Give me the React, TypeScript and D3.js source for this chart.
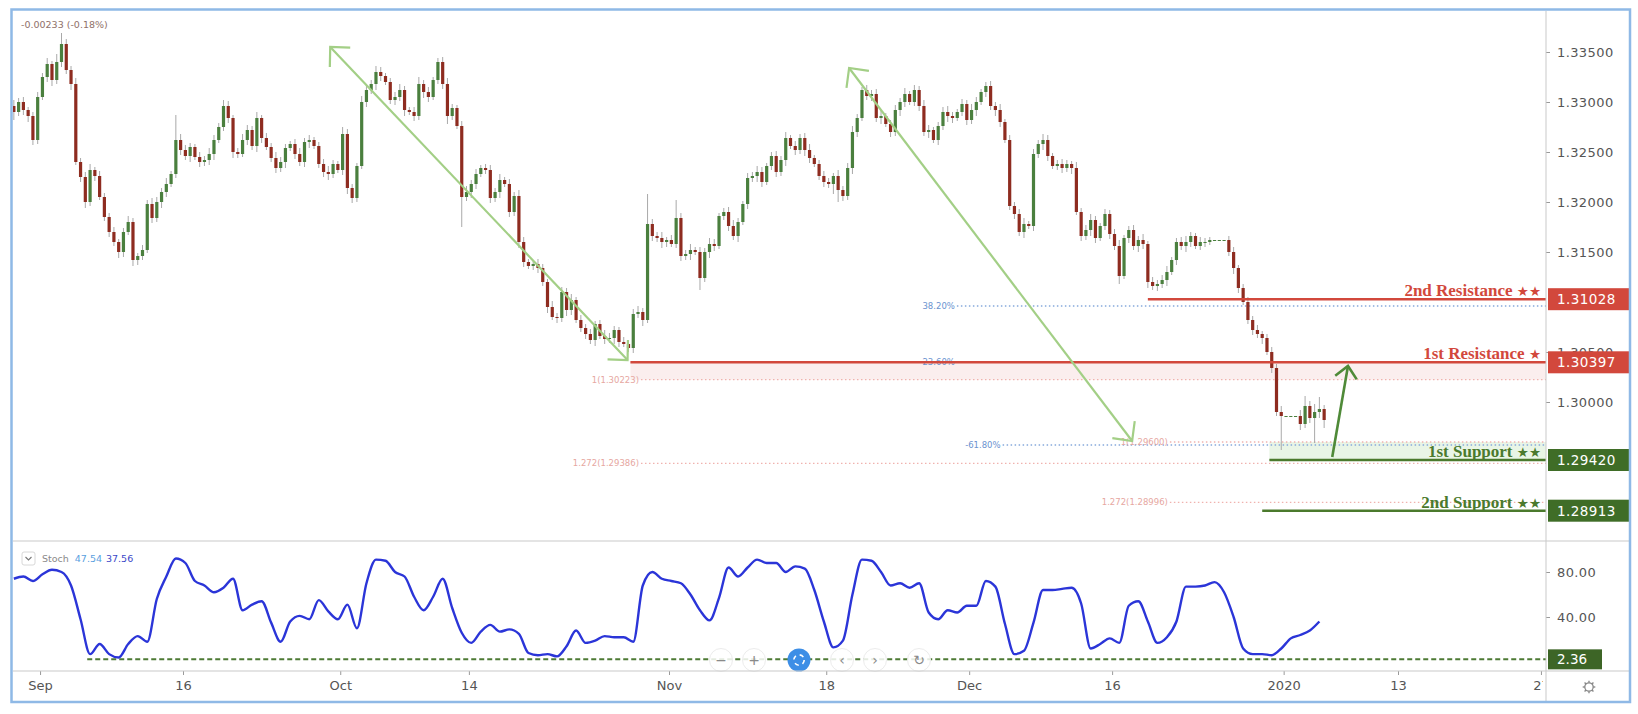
import React, { useEffect, useRef } from 'react';
import * as d3 from 'd3';

const W = 1638;
const H = 714;

// USD/CAD, 3 candles per trading day, day 0 = Thu 29 Aug 2019
const barsPerDay = 3;
const firstOpen = 1.3296;

const closes = [
  1.3290, 1.3300, 1.3292, 1.3286, 1.3262, 1.3305, 1.3325, 1.3338, 1.3322, 1.3340,
  1.3358, 1.3332, 1.3318, 1.3240, 1.3225, 1.3200, 1.3232, 1.3226, 1.3205, 1.3185,
  1.3170, 1.3160, 1.3150, 1.3170, 1.3180, 1.3142, 1.3146, 1.3152, 1.3198, 1.3184,
  1.3200, 1.3210, 1.3218, 1.3228, 1.3262, 1.3252, 1.3246, 1.3255, 1.3245, 1.3240,
  1.3242, 1.3248, 1.3262, 1.3275, 1.3296, 1.3284, 1.3250, 1.3248, 1.3262, 1.3272,
  1.3256, 1.3284, 1.3264, 1.3255, 1.3244, 1.3234, 1.3240, 1.3254, 1.3258, 1.3248,
  1.3240, 1.3260, 1.3262, 1.3256, 1.3238, 1.3230, 1.3228, 1.3238, 1.3232, 1.3268,
  1.3214, 1.3204, 1.3236, 1.3300, 1.3312, 1.3318, 1.3330, 1.3326, 1.3320, 1.3302,
  1.3305, 1.3312, 1.3292, 1.3290, 1.3286, 1.3318, 1.3310, 1.3305, 1.3322, 1.3340,
  1.3318, 1.3286, 1.3294, 1.3276, 1.3205, 1.3210, 1.3218, 1.3228, 1.3234, 1.3232,
  1.3204, 1.3210, 1.3222, 1.3218, 1.3190, 1.3206, 1.3160, 1.3140, 1.3136, 1.3138,
  1.3134, 1.3120, 1.3095, 1.3085, 1.3084, 1.3110, 1.3092, 1.3102, 1.3082, 1.3074,
  1.3068, 1.3062, 1.3078, 1.3066, 1.3063, 1.3064, 1.3072, 1.3060, 1.3058, 1.3054,
  1.3088, 1.3090, 1.3082, 1.3178, 1.3166, 1.3164, 1.3160, 1.3162, 1.3158, 1.3184,
  1.3146, 1.3148, 1.3152, 1.3150, 1.3124, 1.3150, 1.3158, 1.3156, 1.3186, 1.3190,
  1.3176, 1.3166, 1.3180, 1.3198, 1.3224, 1.3226, 1.3230, 1.3220, 1.3236, 1.3246,
  1.3230, 1.3242, 1.3264, 1.3256, 1.3252, 1.3264, 1.3252, 1.3244, 1.3238, 1.3226,
  1.3220, 1.3218, 1.3226, 1.3212, 1.3206, 1.3234, 1.3270, 1.3284, 1.3312, 1.3306,
  1.3308, 1.3284, 1.3286, 1.3278, 1.3270, 1.3292, 1.3300, 1.3308, 1.3300, 1.3312,
  1.3296, 1.3270, 1.3272, 1.3262, 1.3276, 1.3290, 1.3286, 1.3284, 1.3290, 1.3298,
  1.3282, 1.3292, 1.3300, 1.3310, 1.3316, 1.3296, 1.3292, 1.3280, 1.3262, 1.3196,
  1.3188, 1.3170, 1.3178, 1.3176, 1.3248, 1.3258, 1.3262, 1.3246, 1.3236, 1.3238,
  1.3234, 1.3238, 1.3234, 1.3190, 1.3166, 1.3172, 1.3182, 1.3164, 1.3176, 1.3188,
  1.3168, 1.3156, 1.3126, 1.3164, 1.3172, 1.3156, 1.3162, 1.3158, 1.3120, 1.3116,
  1.3118, 1.3122, 1.3130, 1.3142, 1.3160, 1.3156, 1.3160, 1.3166, 1.3156, 1.3160,
  1.3160, 1.3162, 1.3162, 1.3162, 1.3162, 1.3150, 1.3134, 1.3114, 1.3100, 1.3082,
  1.3072, 1.3068, 1.3064, 1.3050, 1.3034, 1.2990, 1.2986, 1.2986, 1.2986, 1.2986,
  1.2978, 1.2996, 1.2984, 1.2990, 1.2993, 1.2982,
];

// wick lengths in pips above / below the body
const wickUp = [
  6, 4, 5, 3, 4, 5, 4, 6, 3, 8, 11, 5, 4, 6, 4, 5, 6, 3, 5, 4,
  4, 5, 3, 4, 6, 4, 3, 5, 4, 6, 5, 4, 6, 3, 25, 6, 5, 4, 3, 5,
  4, 6, 5, 4, 6, 5, 3, 4, 6, 5, 4, 6, 3, 5, 4, 6, 5, 4, 3, 5,
  6, 4, 5, 3, 4, 5, 6, 4, 3, 7, 5, 4, 3, 6, 5, 4, 6, 5, 3, 4,
  5, 6, 4, 3, 5, 7, 4, 5, 3, 4, 5, 6, 4, 3, 5, 6, 4, 5, 3, 4,
  5, 4, 6, 3, 5, 4, 6, 5, 3, 4, 5, 4, 3, 6, 4, 5, 4, 6, 3, 5,
  4, 5, 3, 4, 6, 5, 4, 3, 5, 4, 5, 6, 4, 30, 5, 4, 6, 3, 5, 18,
  5, 4, 6, 3, 5, 4, 6, 5, 3, 4, 5, 6, 4, 3, 5, 4, 6, 5, 3, 4,
  5, 4, 6, 3, 5, 4, 5, 6, 3, 4, 5, 4, 3, 6, 4, 5, 6, 4, 3, 5,
  4, 5, 6, 3, 4, 5, 4, 6, 3, 5, 4, 6, 5, 3, 4, 5, 6, 4, 3, 5,
  4, 6, 5, 3, 4, 5, 4, 6, 3, 5, 4, 5, 6, 3, 5, 4, 6, 5, 3, 4,
  5, 4, 3, 6, 4, 5, 6, 4, 3, 5, 4, 5, 6, 3, 4, 5, 4, 6, 3, 5,
  4, 5, 6, 3, 4, 5, 6, 4, 3, 5, 4, 3, 0, 0, 0, 4, 5, 3, 4, 5,
  4, 5, 3, 4, 5, 4, 6, 0, 0, 0, 6, 10, 5, 8, 12, 4,
];

const wickDown = [
  8, 4, 5, 6, 5, 4, 3, 5, 6, 4, 5, 4, 6, 3, 5, 6, 4, 5, 3, 4,
  5, 4, 6, 5, 3, 6, 5, 4, 3, 5, 4, 6, 5, 3, 4, 5, 4, 6, 3, 5,
  4, 5, 6, 3, 4, 5, 6, 4, 3, 5, 4, 6, 5, 3, 4, 5, 4, 6, 3, 5,
  4, 5, 6, 3, 4, 5, 6, 4, 3, 5, 6, 5, 4, 3, 5, 4, 6, 5, 3, 4,
  5, 4, 6, 3, 5, 4, 6, 5, 3, 4, 5, 8, 4, 3, 30, 4, 6, 5, 3, 4,
  5, 4, 6, 3, 5, 4, 6, 5, 3, 4, 5, 4, 6, 3, 5, 4, 6, 5, 3, 4,
  5, 4, 6, 3, 5, 4, 6, 5, 3, 4, 5, 4, 6, 3, 5, 4, 6, 5, 3, 4,
  5, 4, 6, 3, 12, 4, 6, 5, 3, 4, 5, 4, 6, 3, 5, 4, 6, 5, 3, 4,
  5, 4, 6, 3, 5, 4, 6, 5, 3, 4, 5, 4, 10, 12, 5, 4, 6, 5, 3, 4,
  5, 4, 6, 3, 5, 4, 6, 5, 3, 4, 5, 4, 6, 3, 5, 4, 6, 5, 3, 4,
  5, 4, 6, 3, 5, 4, 6, 5, 3, 4, 5, 4, 6, 3, 5, 4, 6, 5, 3, 4,
  5, 4, 6, 3, 5, 4, 6, 5, 3, 4, 5, 4, 8, 3, 5, 4, 6, 5, 6, 4,
  5, 4, 6, 3, 5, 4, 6, 5, 3, 4, 5, 3, 0, 0, 0, 4, 6, 5, 3, 4,
  5, 4, 6, 3, 5, 4, 34, 0, 0, 0, 6, 4, 5, 25, 6, 8,
];

// Stochastic %K, one value every 2nd candle
const stochStep = 2;
const stochK = [
  74, 76, 72, 78, 82, 80, 68, 38, 7, 16,
  7, 4, 16, 23, 18, 56, 76, 92, 88, 72,
  68, 62, 66, 74, 46, 51, 54, 35, 18, 36,
  41, 38, 55, 45, 38, 51, 30, 70, 91, 90,
  80, 76, 58, 46, 58, 74, 48, 26, 17, 27,
  33, 27, 29, 25, 8, 6, 7, 5, 14, 28,
  17, 19, 23, 22, 22, 18, 68, 80, 74, 72,
  70, 60, 46, 37, 57, 84, 76, 84, 91, 88,
  88, 80, 85, 83, 64, 36, 13, 19, 60, 91,
  90, 80, 68, 70, 66, 70, 44, 38, 46, 44,
  50, 50, 72, 67, 34, 7, 10, 35, 64, 64,
  65, 66, 52, 12, 16, 21, 17, 50, 54, 36,
  17, 22, 36, 67, 67, 68, 71, 62, 40, 12,
  7, 7, 6, 12, 21, 24, 28, 36,
];
const stochLegend = ['47.54', '37.56'];
const stochMinLevel = 2.36;
const stochLevelFromDay = 5.3;

const timeTickLabels = ['Sep', '16', 'Oct', '14', 'Nov', '18', 'Dec', '16', '2020', '13', '27'];
const timeTickDays = [2, 12, 23, 32, 46, 57, 67, 77, 89, 97, 107];

const priceTicks = [1.335, 1.33, 1.325, 1.32, 1.315, 1.305, 1.3];
const stochTicks = [80, 40];

const levelNames = ['2nd Resistance', '1st Resistance', '1st Support', '2nd Support'];
const levelStars = ['★★', '★', '★★', '★★'];
const levelPrices = [1.31028, 1.30397, 1.2942, 1.28913];
const levelFromDays = [79.5, 43.3, 88.0, 87.5];
const levelKinds = ['res', 'res', 'sup', 'sup'];

const zoneTops = [1.30397, 1.296];
const zoneBottoms = [1.30223, 1.2942];
const zoneFromDays = [43.3, 88.0];
const zoneKinds = ['res', 'sup'];

const fibLabels = ['38.20%', '23.60%', '-61.80%', '1(1.30223)', '1.272(1.29386)', '1(1.29600)', '1.272(1.28996)'];
const fibPrices = [1.3096, 1.304, 1.2957, 1.30223, 1.29386, 1.296, 1.28996];
const fibFromDays = [66.0, 66.0, 69.2, 43.9, 43.9, 80.9, 80.9];
const fibKinds = ['retr', 'retr', 'retr', 'ext', 'ext', 'ext', 'ext'];

// [day, price]
const arrowStarts = [[43.1, 1.3042], [78.4, 1.2961], [92.4, 1.2945]];
const arrowEnds = [[22.3, 1.3355], [58.6, 1.3334], [93.5, 1.3036]];
const arrowDouble = [true, true, false];

const changeText = '-0.00233 (-0.18%)';

const Chart: React.FC = () => {
  const ref = useRef<SVGSVGElement>(null);

  useEffect(() => {
    const svg = d3.select(ref.current);
    svg.selectAll('*').remove();

    const plotLeft = 13;
    const plotRight = 1546;
    const mainTop = 11;
    const mainBottom = 541;
    const stochBottom = 671;
    const frameBottom = 702;
    const frameRight = 1630;

    const xDay = d3.scaleLinear().domain([12, 97]).range([183, 1398]);
    const yPrice = d3.scaleLinear().domain([1.3, 1.335]).range([402, 52]);
    const yStoch = d3.scaleLinear().domain([0, 80]).range([662, 572]);
    const barX = (i: number) => xDay(i / barsPerDay + 0.5 / barsPerDay);

    const candles = closes.map((c, i) => {
      const o = i === 0 ? firstOpen : closes[i - 1];
      return {
        i,
        o,
        c,
        h: Math.max(o, c) + wickUp[i] / 10000,
        l: Math.min(o, c) - wickDown[i] / 10000,
      };
    });

    const sans = 'DejaVu Sans, Verdana, sans-serif';
    const red = '#d2483c';
    const green = '#4b7a2d';

    svg.append('rect').attr('width', W).attr('height', H).attr('fill', '#fff');

    const defs = svg.append('defs');
    defs.append('clipPath').attr('id', 'clip-main').append('rect')
      .attr('x', plotLeft).attr('y', mainTop).attr('width', plotRight - plotLeft).attr('height', mainBottom - mainTop);
    defs.append('clipPath').attr('id', 'clip-stoch').append('rect')
      .attr('x', plotLeft).attr('y', mainBottom).attr('width', plotRight - plotLeft).attr('height', stochBottom - mainBottom);
    defs.append('clipPath').attr('id', 'clip-time').append('rect')
      .attr('x', plotLeft).attr('y', stochBottom).attr('width', plotRight - plotLeft - 3).attr('height', frameBottom - stochBottom);

    const main = svg.append('g').attr('clip-path', 'url(#clip-main)');

    // shaded zones
    zoneTops.forEach((top, k) => {
      main.append('rect')
        .attr('x', xDay(zoneFromDays[k]))
        .attr('y', yPrice(top))
        .attr('width', plotRight - xDay(zoneFromDays[k]))
        .attr('height', yPrice(zoneBottoms[k]) - yPrice(top))
        .attr('fill', zoneKinds[k] === 'res' ? 'rgba(226,120,120,0.13)' : 'rgba(120,190,100,0.16)');
    });

    // fib dotted levels
    fibPrices.forEach((p, k) => {
      const isRetr = fibKinds[k] === 'retr';
      const x0 = xDay(fibFromDays[k]);
      main.append('line')
        .attr('x1', x0 + 2).attr('x2', plotRight)
        .attr('y1', yPrice(p)).attr('y2', yPrice(p))
        .attr('stroke', isRetr ? '#86a9dc' : '#f0b2ae')
        .attr('stroke-width', 1.3)
        .attr('stroke-dasharray', '1.5,2.5');
      main.append('text')
        .attr('x', x0).attr('y', yPrice(p) + 3)
        .attr('text-anchor', 'end')
        .attr('font-family', sans).attr('font-size', 8.5)
        .attr('fill', isRetr ? '#6b93cf' : '#e6a7a1')
        .text(fibLabels[k]);
    });

    // candles
    const cg = main.append('g');
    cg.selectAll('line.wick').data(candles).enter().append('line')
      .attr('class', 'wick')
      .attr('x1', d => barX(d.i)).attr('x2', d => barX(d.i))
      .attr('y1', d => yPrice(d.h)).attr('y2', d => yPrice(d.l))
      .attr('stroke', '#a9a9a9').attr('stroke-width', 1);
    cg.selectAll('rect.body').data(candles).enter().append('rect')
      .attr('class', 'body')
      .attr('x', d => barX(d.i) - 1.6)
      .attr('width', 3.2)
      .attr('y', d => yPrice(Math.max(d.o, d.c)))
      .attr('height', d => Math.max(1, Math.abs(yPrice(d.o) - yPrice(d.c))))
      .attr('fill', d => (d.c >= d.o ? '#4a7f3e' : '#8e2c20'));

    // support / resistance lines
    levelPrices.forEach((p, k) => {
      const col = levelKinds[k] === 'res' ? red : green;
      main.append('line')
        .attr('x1', xDay(levelFromDays[k])).attr('x2', plotRight)
        .attr('y1', yPrice(p)).attr('y2', yPrice(p))
        .attr('stroke', col).attr('stroke-width', 2.6);
      const t = main.append('text')
        .attr('x', plotRight - 5).attr('y', yPrice(p) - 3)
        .attr('text-anchor', 'end')
        .attr('font-family', 'Liberation Serif, Times New Roman, serif')
        .attr('font-weight', 'bold').attr('font-size', 17)
        .attr('fill', col);
      t.append('tspan').text(levelNames[k] + ' ');
      t.append('tspan').attr('font-size', 13.5).attr('font-family', sans).text(levelStars[k]);
    });

    // arrows
    const head = (g: any, tx: number, ty: number, ox: number, oy: number, col: string, sw: number, len: number, spread: number) => {
      const a = Math.atan2(ty - oy, tx - ox);
      const pts = [
        [tx - len * Math.cos(a - spread), ty - len * Math.sin(a - spread)],
        [tx, ty],
        [tx - len * Math.cos(a + spread), ty - len * Math.sin(a + spread)],
      ];
      g.append('path').attr('d', d3.line()(pts as [number, number][]))
        .attr('fill', 'none').attr('stroke', col).attr('stroke-width', sw)
        .attr('stroke-linejoin', 'miter');
    };
    arrowStarts.forEach((s, k) => {
      const x1 = xDay(s[0]);
      const y1 = yPrice(s[1]);
      const x2 = xDay(arrowEnds[k][0]);
      const y2 = yPrice(arrowEnds[k][1]);
      const col = arrowDouble[k] ? '#a3cf86' : '#4f8a38';
      const sw = arrowDouble[k] ? 2.2 : 2.6;
      main.append('line').attr('x1', x1).attr('y1', y1).attr('x2', x2).attr('y2', y2)
        .attr('stroke', col).attr('stroke-width', sw);
      if (arrowDouble[k]) {
        head(main, x2, y2, x1, y1, col, sw, 20, 0.78);
        head(main, x1, y1, x2, y2, col, sw, 20, 0.78);
      } else {
        head(main, x2, y2, x1, y1, col, sw, 16, 0.75);
      }
    });

    main.append('text')
      .attr('x', 21).attr('y', 28)
      .attr('font-family', sans).attr('font-size', 9.5)
      .attr('fill', '#8f7169')
      .text(changeText);

    // stochastic pane
    const stoch = svg.append('g').attr('clip-path', 'url(#clip-stoch)');
    stoch.append('line')
      .attr('x1', xDay(stochLevelFromDay)).attr('x2', plotRight)
      .attr('y1', yStoch(stochMinLevel)).attr('y2', yStoch(stochMinLevel))
      .attr('stroke', '#4d7a34').attr('stroke-width', 2)
      .attr('stroke-dasharray', '5,3');
    const stochLine = d3.line<number>()
      .x((_, i) => barX(i * stochStep))
      .y(v => yStoch(v))
      .curve(d3.curveMonotoneX);
    stoch.append('path').datum(stochK)
      .attr('d', stochLine)
      .attr('fill', 'none').attr('stroke', '#2b35d8').attr('stroke-width', 2.4);

    // legend
    svg.append('rect').attr('x', 22).attr('y', 552).attr('width', 13).attr('height', 13)
      .attr('fill', '#fff').attr('stroke', '#d8d8d8').attr('rx', 2);
    svg.append('path').attr('d', 'M25.5,557 L28.5,560 L31.5,557')
      .attr('fill', 'none').attr('stroke', '#777').attr('stroke-width', 1.1);
    const leg = svg.append('text').attr('x', 42).attr('y', 562)
      .attr('font-family', sans).attr('font-size', 9.5);
    leg.append('tspan').attr('fill', '#8a8a8a').text('Stoch');
    leg.append('tspan').attr('dx', 6).attr('fill', '#5aa0e0').text(stochLegend[0]);
    leg.append('tspan').attr('dx', 4).attr('fill', '#3b48c8').text(stochLegend[1]);

    // navigation buttons
    const navX = [721, 754, 799, 842, 875, 919];
    const navIcons = ['−', '+', '', '‹', '›', '↻'];
    navX.forEach((x, k) => {
      const blue = k === 2;
      svg.append('circle').attr('cx', x).attr('cy', 660).attr('r', 11.5)
        .attr('fill', blue ? '#3d8ee6' : 'rgba(255,255,255,0.85)')
        .attr('stroke', blue ? 'none' : '#ececec');
      if (blue) {
        svg.append('circle').attr('cx', x).attr('cy', 660).attr('r', 5.2)
          .attr('fill', 'none').attr('stroke', '#fff').attr('stroke-width', 1.6)
          .attr('stroke-dasharray', '4.2,4');
      } else {
        svg.append('text').attr('x', x).attr('y', 665).attr('text-anchor', 'middle')
          .attr('font-family', sans).attr('font-size', 14).attr('fill', '#8a8a8a')
          .text(navIcons[k]);
      }
    });

    // price axis
    const pa = svg.append('g').attr('transform', `translate(${plotRight},0)`)
      .call(d3.axisRight(yPrice).tickValues(priceTicks).tickFormat(d3.format('.5f')).tickSize(4).tickPadding(7));
    pa.select('.domain').remove();
    pa.selectAll('line').attr('stroke', '#9a9a9a');
    pa.selectAll('text').attr('font-family', sans).attr('font-size', 13).attr('fill', '#555')
      .attr('letter-spacing', 0.4);

    levelPrices.forEach((p, k) => {
      const col = levelKinds[k] === 'res' ? red : '#3f6d27';
      const y = yPrice(p);
      svg.append('rect').attr('x', plotRight + 2).attr('y', y - 11).attr('width', frameRight - plotRight - 2).attr('height', 22)
        .attr('fill', col);
      svg.append('text').attr('x', plotRight + 11).attr('y', y + 5)
        .attr('font-family', sans).attr('font-size', 13.5).attr('fill', '#fff')
        .attr('letter-spacing', 0.4)
        .text(d3.format('.5f')(p));
    });

    const sa = svg.append('g').attr('transform', `translate(${plotRight},0)`)
      .call(d3.axisRight(yStoch).tickValues(stochTicks).tickFormat(d3.format('.2f')).tickSize(4).tickPadding(7));
    sa.select('.domain').remove();
    sa.selectAll('line').attr('stroke', '#9a9a9a');
    sa.selectAll('text').attr('font-family', sans).attr('font-size', 13).attr('fill', '#555')
      .attr('letter-spacing', 0.4);
    svg.append('rect').attr('x', plotRight + 2).attr('y', yStoch(stochMinLevel) - 10).attr('width', 54).attr('height', 20)
      .attr('fill', '#3d6526');
    svg.append('text').attr('x', plotRight + 11).attr('y', yStoch(stochMinLevel) + 5)
      .attr('font-family', sans).attr('font-size', 13.5).attr('fill', '#fff')
      .text(d3.format('.2f')(stochMinLevel));

    // time axis
    const ta = svg.append('g').attr('clip-path', 'url(#clip-time)')
      .append('g').attr('transform', `translate(0,${stochBottom})`)
      .call(d3.axisBottom(xDay).tickValues(timeTickDays).tickFormat((_, i) => timeTickLabels[i]).tickSize(4).tickPadding(6));
    ta.select('.domain').remove();
    ta.selectAll('line').attr('stroke', '#9a9a9a');
    ta.selectAll('text').attr('font-family', sans).attr('font-size', 13).attr('fill', '#555');

    // gear
    const gear = svg.append('g').attr('transform', 'translate(1589,687)');
    gear.append('circle').attr('r', 4.2).attr('fill', 'none').attr('stroke', '#888').attr('stroke-width', 1.3);
    d3.range(8).forEach(k => {
      const a = (k * Math.PI) / 4;
      gear.append('line')
        .attr('x1', 4.2 * Math.cos(a)).attr('y1', 4.2 * Math.sin(a))
        .attr('x2', 6.3 * Math.cos(a)).attr('y2', 6.3 * Math.sin(a))
        .attr('stroke', '#888').attr('stroke-width', 1.4);
    });

    // separators and frame
    const sep = '#c9c9c9';
    svg.append('line').attr('x1', plotRight).attr('x2', plotRight).attr('y1', mainTop).attr('y2', frameBottom)
      .attr('stroke', sep);
    svg.append('line').attr('x1', plotLeft).attr('x2', frameRight).attr('y1', mainBottom).attr('y2', mainBottom)
      .attr('stroke', sep);
    svg.append('line').attr('x1', plotLeft).attr('x2', frameRight).attr('y1', stochBottom).attr('y2', stochBottom)
      .attr('stroke', sep);
    svg.append('rect').attr('x', 11.5).attr('y', 9.5).attr('width', frameRight - 11.5).attr('height', frameBottom - 9.5)
      .attr('fill', 'none').attr('stroke', '#8fb9e6').attr('stroke-width', 2.5);
  }, []);

  return (
    <svg
      ref={ref}
      width={W}
      height={H}
      style={{ position: 'absolute', left: 0, top: 0, display: 'block' }}
    />
  );
};

export default function App() {
  return <Chart />;
}
